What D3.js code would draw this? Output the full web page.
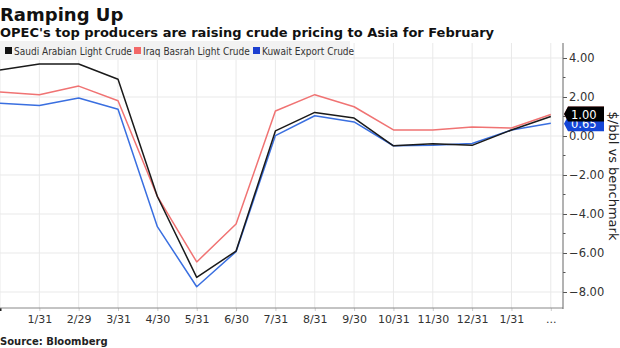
<!DOCTYPE html>
<html>
<head>
<meta charset="utf-8">
<script src="https://cdn.jsdelivr.net/npm/d3@7"></script>
<style>
html,body{margin:0;padding:0;background:#fff;}
svg{display:block;}
</style>
</head>
<body>
<svg id="chart" width="620" height="348"></svg>
<script>
// ---- data ----
const xLabels = ["", "1/31", "2/29", "3/31", "4/30", "5/31", "6/30", "7/31", "8/31", "9/30", "10/31", "11/30", "12/31", "1/31", "..."];
const seriesNames = ["Saudi Arabian Light Crude", "Iraq Basrah Light Crude", "Kuwait Export Crude"];
const saudi  = [3.38, 3.69, 3.69, 2.91, -3.10, -7.25, -5.90, 0.26, 1.21, 0.92, -0.50, -0.40, -0.48, 0.31, 1.00];
const iraq   = [2.26, 2.12, 2.56, 1.81, -3.10, -6.46, -4.51, 1.28, 2.12, 1.50, 0.31, 0.31, 0.46, 0.41, 1.10];
const kuwait = [1.68, 1.56, 1.95, 1.37, -4.65, -7.73, -5.93, 0.02, 1.04, 0.72, -0.50, -0.48, -0.38, 0.31, 0.65];
const yTicks = [4, 2, 0, -2, -4, -6, -8];
const lastLabels = ["1.10", "1.00", "0.65"];

const colors = ["#1a1a1a", "#f07373", "#3a6fe0"];
const swatch = ["#111111", "#f26868", "#1c3fd0"];

const svg = d3.select("#chart");
const pL = 0, pR = 563, pT = 43, pB = 308;

const x = d3.scaleLinear().domain([0, 14.31]).range([pL, pR]);
const y = d3.scaleLinear().domain([-8.82, 4.77]).range([pB, pT]);

const font = "'DejaVu Sans', Verdana, sans-serif";

// grid
const grid = svg.append("g");
grid.selectAll("line.v").data(d3.range(xLabels.length)).join("line")
  .attr("x1", d => x(d)).attr("x2", d => x(d))
  .attr("y1", pT).attr("y2", pB)
  .attr("stroke", "#e9e9e9").attr("stroke-width", 1);
grid.selectAll("line.h").data(yTicks).join("line")
  .attr("x1", pL).attr("x2", pR)
  .attr("y1", d => y(d)).attr("y2", d => y(d))
  .attr("stroke", "#e9e9e9").attr("stroke-width", 1);

// legend background
const leg = svg.append("g");
leg.append("rect").attr("x", 0).attr("y", 41).attr("width", 350).attr("height", 19).attr("fill", "#f2f2f2");
const legX = [5, 134, 253];
seriesNames.forEach((n, i) => {
  leg.append("rect").attr("x", legX[i]).attr("y", 47).attr("width", 7).attr("height", 7).attr("fill", swatch[i]);
  leg.append("text").attr("x", legX[i] + 9).attr("y", 54.5)
    .attr("font-family", "'DejaVu Sans Condensed', 'DejaVu Sans', sans-serif")
    .attr("font-size", 10).attr("fill", "#333").text(n);
});

// lines
const line = d3.line().x((d, i) => x(i)).y(d => y(d));
const allSeries = [saudi, iraq, kuwait];
[1, 2, 0].forEach(i => {
  svg.append("path").datum(allSeries[i]).attr("d", line)
    .attr("fill", "none").attr("stroke", colors[i]).attr("stroke-width", 1.5)
    .attr("stroke-linejoin", "round");
});

// axes
const yAxis = d3.axisRight(y).tickValues(yTicks).tickSize(4).tickPadding(2).tickFormat(d3.format(".2f"));
const ya = svg.append("g").attr("transform", `translate(${pR},0)`).call(yAxis);
ya.select(".domain").remove();
ya.selectAll("text").attr("font-family", font).attr("font-size", 11.5).attr("fill", "#333");
ya.selectAll("line").attr("stroke", "#555");
svg.append("g").selectAll("line").data([3, 1, -1, -3, -5, -7]).join("line")
  .attr("x1", pR).attr("x2", pR + 2.5).attr("y1", d => y(d)).attr("y2", d => y(d))
  .attr("stroke", "#555");

const xAxis = d3.axisBottom(x).tickValues(d3.range(xLabels.length)).tickSize(3).tickPadding(4)
  .tickFormat(i => xLabels[i]);
const xa = svg.append("g").attr("transform", `translate(0,${pB})`).call(xAxis);
xa.select(".domain").remove();
xa.selectAll("text").attr("font-family", font).attr("font-size", 11).attr("fill", "#333");
xa.selectAll("line").attr("stroke", "#ccc");
xa.select(".tick line").attr("stroke", "#222").attr("stroke-width", 2);

svg.append("line").attr("x1", pL).attr("x2", pR).attr("y1", pB).attr("y2", pB).attr("stroke", "#888");
svg.append("line").attr("x1", pR).attr("x2", pR).attr("y1", pT).attr("y2", pB + 1).attr("stroke", "#666");

// end labels (stacked like the reference: black over blue, red behind)
const lastIdx = xLabels.length - 1;
const lblY = [y(iraq[lastIdx]) - 8, y(saudi[lastIdx]) - 10, y(kuwait[lastIdx]) - 7];
const lblFill = ["#f07373", "#000", "#1446d6"];
const lblText = ["#000", "#fff", "#fff"];
[0, 2, 1].forEach(k => {
  const g = svg.append("g").attr("transform", `translate(${pR + 1},${lblY[k]})`);
  g.append("path").attr("d", "M0,7.5 L4,0 H40 V15 H4 Z").attr("fill", lblFill[k]);
  g.append("text").attr("x", 7).attr("y", 12).attr("font-family", font).attr("font-size", 11.5)
    .attr("fill", lblText[k]).text(lastLabels[k]);
});

svg.append("text").attr("transform", `translate(609,176) rotate(90)`).attr("text-anchor", "middle")
  .attr("font-family", font).attr("font-size", 13).attr("fill", "#222").text("$/bbl vs benchmark");

svg.append("text").attr("x", 0).attr("y", 21).attr("font-family", font).attr("font-weight", "bold")
  .attr("font-size", 18).attr("fill", "#111").text("Ramping Up");
svg.append("text").attr("x", 0).attr("y", 37).attr("font-family", font).attr("font-weight", "bold")
  .attr("font-size", 13).attr("fill", "#111").text("OPEC's top producers are raising crude pricing to Asia for February");
svg.append("text").attr("x", 0).attr("y", 345).attr("font-family", font).attr("font-weight", "bold")
  .attr("font-size", 10).attr("fill", "#222").text("Source: Bloomberg");
</script>
</body>
</html>
